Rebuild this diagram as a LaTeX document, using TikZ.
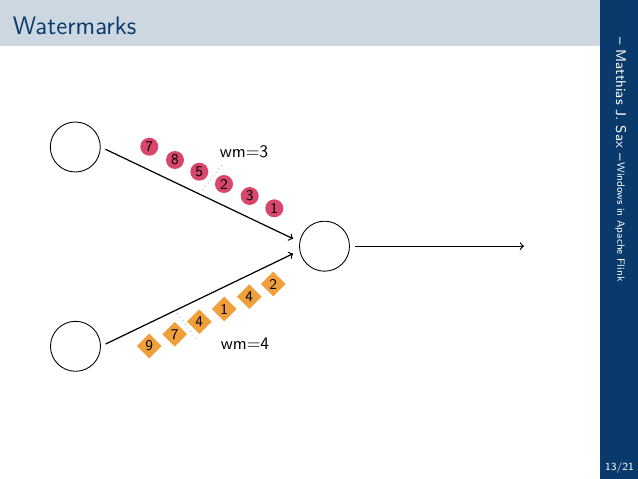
\documentclass[tikz,border=0pt]{standalone}
\usepackage{fontspec}
\usepackage{tikz}
\usetikzlibrary{shapes.geometric}

\definecolor{barblue}{HTML}{0A3A6C}
\definecolor{headgray}{HTML}{CDD7E1}
\definecolor{evred}{HTML}{D9466B}
\definecolor{evorange}{HTML}{F0A03A}

\begin{document}
\begin{tikzpicture}[x=0.02cm,y=-0.02cm,font=\sffamily]
\tikzset{proc/.style={circle,draw,line width=0.5pt,minimum size=1cm,inner sep=0pt},
flow/.style={->,line width=0.7pt,shorten <=3pt,shorten >=4pt},
ev/.style={circle,fill=evred,inner sep=0pt,minimum size=0.36cm,font=\fontsize{8.5}{9}\selectfont\sffamily},
evb/.style={diamond,fill=evorange,inner sep=0pt,minimum size=0.5cm,font=\fontsize{8.5}{9}\selectfont\sffamily},
wmline/.style={gray!70,dotted,line width=0.5pt},
wmtext/.style={font=\fontsize{10}{11}\selectfont\sffamily}}
\useasboundingbox (0,0) rectangle (638,479);

% slide frame
\fill[headgray] (0,0) rectangle (600,46.5);
\fill[barblue] (600,0) rectangle (638,479);
\node[anchor=base west,inner sep=0pt,text=barblue,font=\fontsize{14.4}{16}\selectfont\sffamily] (title) at (12.5,34.3) {Watermarks};
\node[rotate=-90,text=white,inner sep=0pt,font=\fontsize{8}{9}\selectfont\sffamily] (author) at (621,99) {-- Matthias J. Sax --};
\node[rotate=-90,text=white,inner sep=0pt,font=\fontsize{6}{7}\selectfont\sffamily] (talk) at (620,222) {Windows in Apache Flink};
\node[text=white,inner sep=0pt,anchor=base,font=\fontsize{6.2}{7}\selectfont\sffamily] (page) at (619.5,470.5) {13/21};

% operators
\node[proc] (s1) at (75.3,147) {};
\node[proc] (s2) at (75.5,346.3) {};
\node[proc] (op) at (324.5,246.2) {};
\coordinate (out) at (531,246.2);
\draw[flow] (s1.east) -- (op.170);
\draw[flow] (s2.east) -- (op.190);
\draw[flow] (op.east) -- (out);

% upper stream
\node[ev] (r1) at (149.3,146.7) {7};
\node[ev] (r2) at (175,160) {8};
\node[ev] (r3) at (199.3,171.7) {5};
\node[ev] (r4) at (224,184) {2};
\node[ev] (r5) at (249.7,196) {3};
\node[ev] (r6) at (274.3,208.3) {1};
\coordinate (wa1) at (221.7,165);
\coordinate (wa2) at (201.7,191.7);
\draw[wmline] (wa1) -- (wa2);
\node[wmtext] (wma) at (244,152) {wm$=$3};

% lower stream
\node[evb] (o1) at (149.3,346) {9};
\node[evb] (o2) at (174.7,334.3) {7};
\node[evb] (o3) at (199.3,321.7) {4};
\node[evb] (o4) at (224.3,309) {1};
\node[evb] (o5) at (249.3,296.7) {4};
\node[evb] (o6) at (273.3,284) {2};
\coordinate (wb1) at (177.3,313.3);
\coordinate (wb2) at (196.7,340);
\draw[wmline] (wb1) -- (wb2);
\node[wmtext] (wmb) at (245,343.5) {wm$=$4};
\end{tikzpicture}
\end{document}
